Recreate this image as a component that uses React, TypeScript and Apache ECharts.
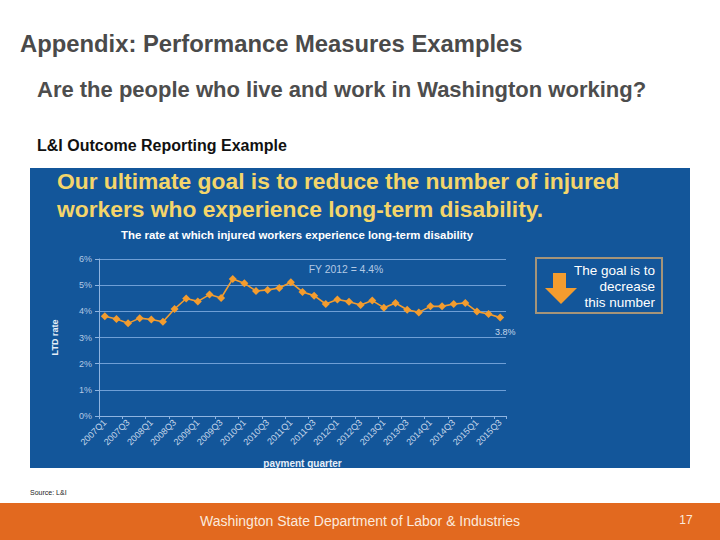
import React, { useEffect, useRef } from "react";
import * as echarts from "echarts";

const quarters: string[] = [
  "2007Q1", "2007Q2", "2007Q3", "2007Q4",
  "2008Q1", "2008Q2", "2008Q3", "2008Q4",
  "2009Q1", "2009Q2", "2009Q3", "2009Q4",
  "2010Q1", "2010Q2", "2010Q3", "2010Q4",
  "2011Q1", "2011Q2", "2011Q3", "2011Q4",
  "2012Q1", "2012Q2", "2012Q3", "2012Q4",
  "2013Q1", "2013Q2", "2013Q3", "2013Q4",
  "2014Q1", "2014Q2", "2014Q3", "2014Q4",
  "2015Q1", "2015Q2", "2015Q3",
];

const ltdRate: number[] = [
  3.81, 3.71, 3.54, 3.74, 3.69, 3.6, 4.09, 4.49, 4.38, 4.64, 4.51, 5.24,
  5.07, 4.78, 4.82, 4.89, 5.11, 4.74, 4.6, 4.28, 4.45, 4.37, 4.24, 4.41,
  4.14, 4.32, 4.06, 3.96, 4.19, 4.19, 4.28, 4.32, 3.99, 3.9, 3.76,
];

const yTicks = { min: 0, max: 6, interval: 1 };
const lastLabel = "3.8%";
const fyNote = "FY 2012 = 4.4%";

const FONT = "'Liberation Sans', Arial, sans-serif";

export default function App() {
  const ref = useRef<HTMLDivElement>(null);
  useEffect(() => {
    if (!ref.current) return;
    const chart = echarts.init(ref.current, null, { renderer: "svg" });
    const lastIdx = ltdRate.length - 1;
    const seriesData = ltdRate.map((v, i) =>
      i === lastIdx
        ? {
            value: v,
            label: {
              show: true,
              position: "bottom",
              offset: [5, 1],
              formatter: lastLabel,
              color: "#c6d6ea",
              fontSize: 9,
              fontFamily: FONT,
            },
          }
        : v
    );
    chart.setOption({
      animation: false,
      backgroundColor: "#ffffff",
      textStyle: { fontFamily: FONT },
      grid: { left: 99, right: 214, top: 259, bottom: 124, containLabel: false },
      xAxis: {
        type: "category",
        data: quarters,
        boundaryGap: true,
        name: "payment quarter",
        nameLocation: "middle",
        nameGap: 42,
        nameTextStyle: { color: "#e6eef8", fontSize: 10, fontWeight: "bold", fontFamily: FONT },
        axisLine: { lineStyle: { color: "#8fb4e0", width: 1 } },
        axisTick: { show: true, length: 3, lineStyle: { color: "#8fb4e0" } },
        axisLabel: {
          interval: 1,
          rotate: 45,
          color: "#c6d6ea",
          fontSize: 9,
          fontFamily: FONT,
          margin: 5,
        },
        splitLine: { show: false },
      },
      yAxis: {
        type: "value",
        min: yTicks.min,
        max: yTicks.max,
        interval: yTicks.interval,
        name: "LTD rate",
        nameLocation: "middle",
        nameRotate: 90,
        nameGap: 40,
        nameTextStyle: { color: "#e6eef8", fontSize: 9, fontWeight: "bold", fontFamily: FONT },
        axisLine: { show: true, lineStyle: { color: "#8fb4e0", width: 1 } },
        axisTick: { show: true, length: 4, lineStyle: { color: "#8fb4e0" } },
        axisLabel: {
          formatter: "{value}%",
          color: "#b3c9e4",
          fontSize: 9,
          fontFamily: FONT,
          margin: 7,
        },
        splitLine: { lineStyle: { color: "#6f9fd6", width: 1 } },
      },
      series: [
        {
          type: "line",
          data: seriesData,
          symbol: "diamond",
          symbolSize: 8,
          showSymbol: true,
          showAllSymbol: true,
          lineStyle: { color: "#f39c2e", width: 1.6 },
          itemStyle: { color: "#f39c2e" },
          z: 5,
        },
      ],
      graphic: [
        { type: "rect", z: -100, silent: true, shape: { x: 30, y: 168, width: 660, height: 300 }, style: { fill: "#13569a" } },
        { type: "rect", z: -100, silent: true, shape: { x: 0, y: 503, width: 720, height: 37 }, style: { fill: "#e2691f" } },
        {
          type: "text", x: 20, y: 43,
          style: { text: "Appendix: Performance Measures Examples", fill: "#4a4a4a", font: `bold 23.8px ${FONT}`, textVerticalAlign: "middle" },
        },
        {
          type: "text", x: 37, y: 89,
          style: { text: "Are the people who live and work in Washington working?", fill: "#4d4d4d", font: `bold 22px ${FONT}`, textVerticalAlign: "middle" },
        },
        {
          type: "text", x: 37, y: 145,
          style: { text: "L&I Outcome Reporting Example", fill: "#111111", font: `bold 16px ${FONT}`, textVerticalAlign: "middle" },
        },
        {
          type: "text", x: 57, y: 181,
          style: { text: "Our ultimate goal is to reduce the number of injured", fill: "#f4d56a", font: `bold 22.8px ${FONT}`, textVerticalAlign: "middle" },
        },
        {
          type: "text", x: 57, y: 209,
          style: { text: "workers who experience long-term disability.", fill: "#f4d56a", font: `bold 22.8px ${FONT}`, textVerticalAlign: "middle" },
        },
        {
          type: "text", x: 297, y: 235,
          style: { text: "The rate at which injured workers experience long-term disability", fill: "#ffffff", font: `bold 11.4px ${FONT}`, textAlign: "center", textVerticalAlign: "middle" },
        },
        {
          type: "text", x: 346, y: 269,
          style: { text: fyNote, fill: "#b3c9e4", font: `10.4px ${FONT}`, textAlign: "center", textVerticalAlign: "middle" },
        },
        {
          type: "rect", shape: { x: 536, y: 258, width: 126, height: 55 },
          style: { fill: "none", stroke: "#a59479", lineWidth: 2 },
        },
        {
          type: "polygon",
          shape: { points: [[553, 273], [566, 273], [566, 288], [577, 288], [561, 304], [545, 288], [553, 288]] },
          style: { fill: "#f39c2e" },
        },
        {
          type: "text", x: 655, y: 270,
          style: { text: "The goal is to", fill: "#ffffff", font: `13.5px ${FONT}`, textAlign: "right", textVerticalAlign: "middle" },
        },
        {
          type: "text", x: 655, y: 286,
          style: { text: "decrease", fill: "#ffffff", font: `13.5px ${FONT}`, textAlign: "right", textVerticalAlign: "middle" },
        },
        {
          type: "text", x: 655, y: 302,
          style: { text: "this number", fill: "#ffffff", font: `13.5px ${FONT}`, textAlign: "right", textVerticalAlign: "middle" },
        },
        {
          type: "text", x: 30, y: 492,
          style: { text: "Source: L&I", fill: "#222222", font: `7px ${FONT}`, textVerticalAlign: "middle" },
        },
        {
          type: "text", x: 360, y: 521,
          style: { text: "Washington State Department of Labor & Industries", fill: "#fbe9dc", font: `14px ${FONT}`, textAlign: "center", textVerticalAlign: "middle" },
        },
        {
          type: "text", x: 686, y: 520,
          style: { text: "17", fill: "#fbe9dc", font: `12px ${FONT}`, textAlign: "center", textVerticalAlign: "middle" },
        },
      ],
    });
    return () => chart.dispose();
  }, []);
  return (
    <div
      ref={ref}
      style={{ position: "fixed", left: 0, top: 0, width: 720, height: 540 }}
    />
  );
}
